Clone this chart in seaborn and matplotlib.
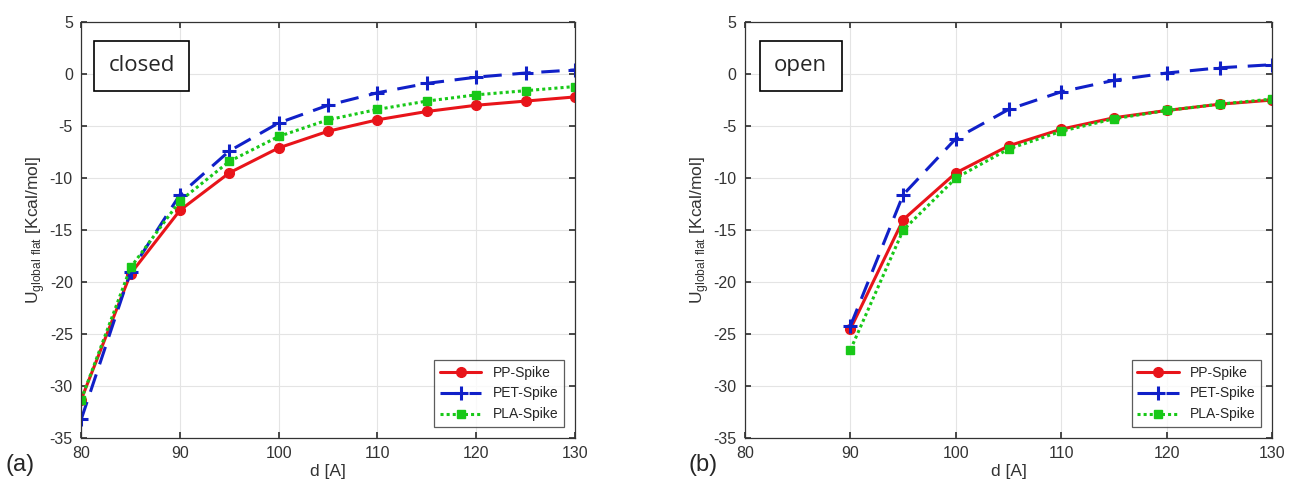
import numpy as np
import pandas as pd
import matplotlib
matplotlib.use('Agg')
import matplotlib.pyplot as plt
import seaborn as sns

# Distances [A]
d_closed = [80, 85, 90, 95, 100, 105, 110, 115, 120, 125, 130]
d_open = [90, 95, 100, 105, 110, 115, 120, 125, 130]

# closed state
pp_closed = [-31.3, -19.2, -13.1, -9.5, -7.1, -5.5, -4.4, -3.6, -3.0, -2.6, -2.2]
pet_closed = [-33.2, -19.0, -11.6, -7.4, -4.7, -3.0, -1.8, -0.9, -0.3, 0.1, 0.4]
pla_closed = [-31.3, -18.6, -12.2, -8.4, -6.0, -4.4, -3.4, -2.6, -2.0, -1.6, -1.2]

# open state
pp_open = [-24.5, -14.0, -9.5, -6.9, -5.3, -4.2, -3.5, -2.9, -2.5]
pet_open = [-24.2, -11.6, -6.2, -3.4, -1.7, -0.6, 0.1, 0.6, 0.9]
pla_open = [-26.5, -15.0, -10.0, -7.2, -5.5, -4.3, -3.5, -2.9, -2.4]

series_names = ['PP-Spike', 'PET-Spike', 'PLA-Spike']
x_ticks = [80, 90, 100, 110, 120, 130]
y_ticks = [-35, -30, -25, -20, -15, -10, -5, 0, 5]

sns.set_theme(style='whitegrid')
plt.rcParams['font.family'] = ['Liberation Sans', 'DejaVu Sans']
plt.rcParams['mathtext.fontset'] = 'custom'
plt.rcParams['mathtext.rm'] = 'Liberation Sans'
plt.rcParams['axes.unicode_minus'] = False

styles = {
    'PP-Spike': dict(color='#e8141a', linestyle='-', marker='o', markersize=7, mew=1),
    'PET-Spike': dict(color='#1020c8', linestyle=(0, (6, 3.5)), marker='+', markersize=10, mew=2.2),
    'PLA-Spike': dict(color='#18c818', linestyle=(0, (1, 1)), marker='s', markersize=6, mew=1),
}


def panel(ax, d, values, state):
    for name, y in zip(series_names, values):
        df = pd.DataFrame({'d': d, 'U': y})
        st = styles[name]
        sns.lineplot(data=df, x='d', y='U', ax=ax, color=st['color'], linestyle=st['linestyle'],
                     marker=st['marker'], markersize=st['markersize'], markeredgecolor=st['color'],
                     markeredgewidth=st['mew'], linewidth=2.2, label=name)
    ax.set_xlim(80, 130)
    ax.set_ylim(-35, 5)
    ax.set_xticks(x_ticks)
    ax.set_yticks(y_ticks)
    ax.grid(True, color='#e4e4e4', linewidth=0.8)
    for s in ax.spines.values():
        s.set_color('#333333')
        s.set_linewidth(0.9)
    ax.tick_params(direction='in', length=4, colors='#333333', labelsize=11.5,
                   top=True, right=True, bottom=True, left=True, pad=6)
    ax.set_xlabel('d [A]', fontsize=12.5, color='#333333', labelpad=2)
    ax.set_ylabel(r'U$_{\mathrm{global\ flat}}$ [Kcal/mol]', fontsize=12.5, color='#333333', labelpad=2)
    ax.text(0.055, 0.895, state, transform=ax.transAxes, fontsize=16, va='center', ha='left',
            family=['Open Sans', 'DejaVu Sans'],
            bbox=dict(boxstyle='square,pad=0.65', facecolor='white', edgecolor='black', linewidth=1.2))
    leg = ax.legend(loc='lower right', fontsize=10, frameon=True, fancybox=False,
                    handlelength=3.0, borderpad=0.4, labelspacing=0.5, borderaxespad=0.8)
    leg.get_frame().set_edgecolor('#333333')
    leg.get_frame().set_linewidth(0.9)


fig = plt.figure(figsize=(12.89, 4.9), dpi=100)
ax1 = fig.add_axes([0.063, 0.106, 0.383, 0.849])
ax2 = fig.add_axes([0.578, 0.106, 0.409, 0.849])

panel(ax1, d_closed, [pp_closed, pet_closed, pla_closed], 'closed')
panel(ax2, d_open, [pp_open, pet_open, pla_open], 'open')

fig.text(0.004, 0.052, '(a)', fontsize=17, ha='left', va='center')
fig.text(0.534, 0.052, '(b)', fontsize=17, ha='left', va='center')

fig.savefig('out.png', dpi=100)
